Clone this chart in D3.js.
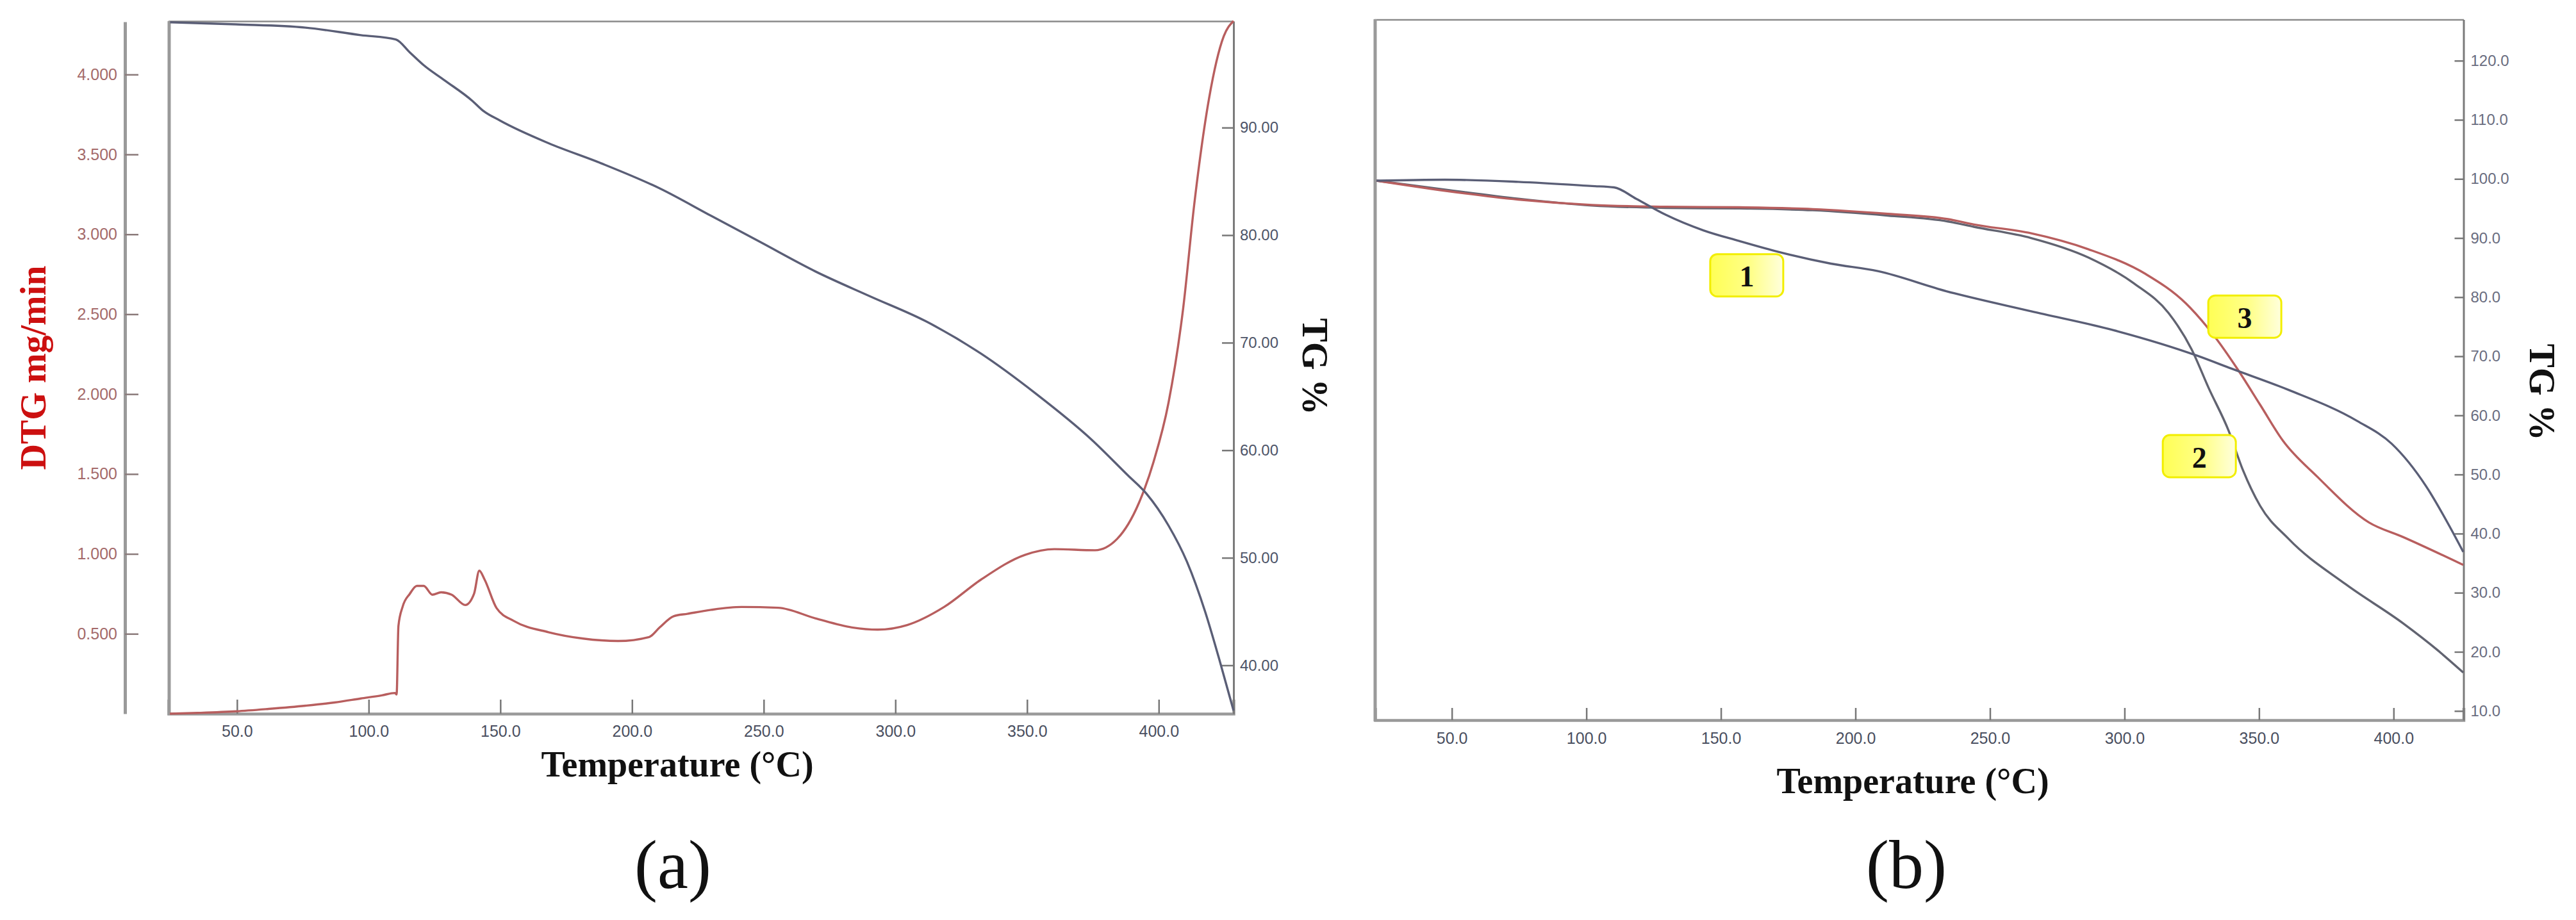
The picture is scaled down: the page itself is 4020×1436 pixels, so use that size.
<!DOCTYPE html>
<html><head><meta charset="utf-8">
<script src="https://cdn.jsdelivr.net/npm/d3@7/dist/d3.min.js"></script>
<style>body{margin:0;background:#fff}svg{display:block}</style>
</head><body>
<svg id="c" width="4020" height="1436"></svg>
<script>
// ---------- data ----------
// Panel (a): DTG (mg/min) vs temperature
const dtgTemp = [24.5,35,49.6,62,76,87,97,105,110.0,110.6,111.3,112.9,115.6,118.3,120.9,124.2,127.5,131.5,136.7,140,142,144,148.6,155.2,168.3,181.5,194.7,206.5,210.5,215.8,221,230,241.6,255.5,269.6,283.5,293.3,304.5,318.5,332.4,349.2,360.4,375.8,384.2,392.5,398.1,403.7,409.3,413.5,419.1,424.7,428.4];
const dtgValue = [0.0,0.005,0.015,0.03,0.05,0.07,0.095,0.115,0.13,0.12,0.55,0.67,0.75,0.80,0.80,0.745,0.76,0.745,0.68,0.75,0.895,0.84,0.66,0.58,0.51,0.47,0.455,0.48,0.54,0.61,0.625,0.65,0.668,0.663,0.597,0.54,0.526,0.555,0.668,0.838,0.994,1.03,1.023,1.094,1.32,1.58,1.945,2.54,3.19,3.85,4.24,4.335];
// Panel (a): TG (%) vs temperature
const tgATemp = [24.6,49.6,76,97,110.3,115.6,120.9,128.8,139.3,143.3,149.9,168.3,188.1,210.5,230,248.6,269.6,290.5,311.5,332.4,353.4,374.3,388.3,395.3,403.7,410.7,417.6,423.2,428.4];
const tgAValue = [99.8,99.6,99.3,98.6,98.2,97.0,95.8,94.4,92.5,91.6,90.65,88.55,86.7,84.35,81.8,79.37,76.63,74.3,72.0,69.0,65.25,61.03,57.66,55.97,53.0,49.64,45.0,40.37,35.8];
// Panel (b): three TG curves
const tg1Temp = [22,47.4,74.7,102.1,110.3,118.5,129.4,143.5,156.8,170.2,190.9,208.3,233.8,265.3,297.2,327,339.8,361,386.5,399.3,412.1,420.6,425.9];
const tg1Value = [99.7,99.87,99.5,98.8,98.57,96.65,93.96,91.3,89.5,87.8,85.67,84.4,81.0,77.6,74.26,70.1,67.9,64.3,59.05,55.2,48,41.4,36.9];
const tg2Temp = [22,47.4,74.7,102.1,129.4,156.8,184.1,212,234.4,244,265.3,286.6,303.6,316.4,324.9,331.3,338.7,344,350.4,361,382.3,403.6,416.3,425.9];
const tg2Value = [99.7,98.2,96.65,95.5,95.1,95.0,94.7,93.8,92.8,91.9,90.0,86.7,82.3,77.3,71.2,64.6,57.4,50.75,44.7,39.1,31.4,24.8,20.3,16.5];
const tg3Temp = [22,47.4,74.7,102.1,129.4,156.8,184.1,212,234.4,244,265.3,286.6,307.9,322.8,333.4,341.9,350.4,358.9,371.6,390.8,403.6,425.9];
const tg3Value = [99.7,98.0,96.5,95.6,95.3,95.2,94.9,94.1,93.2,92.3,90.8,88.1,83.9,78.95,73.4,67.9,61.8,55.7,49.65,41.9,39.4,34.7];
// tick labels
const xTicks = [50,100,150,200,250,300,350,400];
const dtgTicks = [0.5,1,1.5,2,2.5,3,3.5,4];
const tgATicks = [40,50,60,70,80,90];
const tgBTicks = [10,20,30,40,50,60,70,80,90,100,110,120];
// curve labels in panel (b): [label, temperature, TG %]
const bLabels = ["1","2","3"];
const bLabelTemp = [159.6,327.8,344.7];
const bLabelTG = [83.7,53.1,76.7];

// ---------- drawing ----------
const svg = d3.select("#c");
svg.append("rect").attr("width",4020).attr("height",1436).attr("fill","#fff");
const defs = svg.append("defs");
const grad = defs.append("linearGradient").attr("id","yel").attr("x1","0").attr("x2","1").attr("y1","0").attr("y2","0");
grad.append("stop").attr("offset","0").attr("stop-color","#ffff55");
grad.append("stop").attr("offset","0.55").attr("stop-color","#ffff88");
grad.append("stop").attr("offset","1").attr("stop-color","#ffffdd");

const red = "#b85e5e", slate = "#5a5e76", gray2 = "#616370";
const tickFont = "Liberation Sans, Arial, sans-serif";
const serif = "Liberation Serif, Times New Roman, serif";

// ===== Panel (a) =====
const xA = d3.scaleLinear().domain([24,428.4]).range([263,1925]);
const yD = d3.scaleLinear().domain([0,4.33]).range([1114,34]);
const yTA = d3.scaleLinear().domain([35.5,99.9]).range([1114,33]);

const gA = svg.append("g");
// frame
gA.append("line").attr("x1",263).attr("x2",1925).attr("y1",33.5).attr("y2",33.5).attr("stroke","#8a8a8a").attr("stroke-width",2.5);
gA.append("line").attr("x1",264).attr("x2",264).attr("y1",33).attr("y2",1116).attr("stroke","#9a9a9a").attr("stroke-width",5);

// x axis
const axA = gA.append("g").attr("transform","translate(0,1114)")
  .call(d3.axisTop(xA).tickValues(xTicks).tickSize(22).tickFormat(d3.format(".1f")));
axA.select(".domain").attr("stroke","#999").attr("stroke-width",4.5);
axA.selectAll(".tick line").attr("stroke","#777").attr("stroke-width",2.5);
axA.selectAll(".tick text").attr("y",36).attr("dy",0).attr("font-family",tickFont).attr("font-size",25).attr("fill","#4a4f60");

// DTG axis (separate line to the left)
const axD = gA.append("g").attr("transform","translate(195,0)")
  .call(d3.axisRight(yD).tickValues(dtgTicks).tickSize(21).tickSizeOuter(0).tickFormat(d3.format(".3f")));
axD.select(".domain").attr("stroke","#9a9a9a").attr("stroke-width",5);
axD.selectAll(".tick line").attr("stroke","#8a7a7a").attr("stroke-width",2.5);
axD.selectAll(".tick text").attr("x",-12).attr("text-anchor","end").attr("font-family",tickFont).attr("font-size",25).attr("fill","#a46a6a");

// right TG axis
const axTA = gA.append("g").attr("transform","translate(1925,0)")
  .call(d3.axisLeft(yTA).tickValues(tgATicks).tickSize(18).tickSizeOuter(0).tickFormat(d3.format(".2f")));
axTA.select(".domain").attr("stroke","#7a7a7a").attr("stroke-width",3);
axTA.selectAll(".tick line").attr("stroke","#777").attr("stroke-width",2.5);
axTA.selectAll(".tick text").attr("x",10).attr("text-anchor","start").attr("font-family",tickFont).attr("font-size",24).attr("fill","#4d5468");

// curves
const lineDTG = d3.line().x((d,i)=>xA(dtgTemp[i])).y((d,i)=>yD(dtgValue[i])).curve(d3.curveMonotoneX);
gA.append("path").attr("d",lineDTG(dtgTemp)).attr("fill","none").attr("stroke",red).attr("stroke-width",3.4);
const lineTA = d3.line().x((d,i)=>xA(tgATemp[i])).y((d,i)=>yTA(tgAValue[i])).curve(d3.curveMonotoneX);
gA.append("path").attr("d",lineTA(tgATemp)).attr("fill","none").attr("stroke",slate).attr("stroke-width",3.4);

// titles
gA.append("text").attr("transform","translate(52,574) rotate(-90)").attr("text-anchor","middle").attr("dominant-baseline","central")
  .attr("font-family",serif).attr("font-weight","bold").attr("font-size",56).attr("fill","#cc1010").text("DTG mg/min");
gA.append("text").attr("transform","translate(2052,572) rotate(90)").attr("text-anchor","middle").attr("dominant-baseline","central")
  .attr("font-family",serif).attr("font-weight","bold").attr("font-size",56).attr("fill","#111").text("TG %");
gA.append("text").attr("x",1057).attr("y",1212).attr("text-anchor","middle")
  .attr("font-family",serif).attr("font-weight","bold").attr("font-size",56).attr("fill","#111").text("Temperature (°C)");
gA.append("text").attr("x",1050).attr("y",1386).attr("text-anchor","middle")
  .attr("font-family",serif).attr("font-size",108).attr("fill","#111").text("(a)");

// ===== Panel (b) =====
const xB = d3.scaleLinear().domain([21.5,426]).range([2146,3844.5]);
const yB = d3.scaleLinear().domain([8.45,126.95]).range([1124,30.6]);
const gB = svg.append("g");
gB.append("line").attr("x1",2145).attr("x2",3845).attr("y1",31).attr("y2",31).attr("stroke","#8a8a8a").attr("stroke-width",2.5);
gB.append("line").attr("x1",2146).attr("x2",2146).attr("y1",30).attr("y2",1126).attr("stroke","#9a9a9a").attr("stroke-width",5);

const axB = gB.append("g").attr("transform","translate(0,1124)")
  .call(d3.axisTop(xB).tickValues(xTicks).tickSize(19).tickFormat(d3.format(".1f")));
axB.select(".domain").attr("stroke","#999").attr("stroke-width",4.5);
axB.selectAll(".tick line").attr("stroke","#777").attr("stroke-width",2.5);
axB.selectAll(".tick text").attr("y",37).attr("dy",0).attr("font-family",tickFont).attr("font-size",25).attr("fill","#4a4f60");

const axTB = gB.append("g").attr("transform","translate(3844.5,0)")
  .call(d3.axisLeft(yB).tickValues(tgBTicks).tickSize(14).tickSizeOuter(0).tickFormat(d3.format(".1f")));
axTB.select(".domain").attr("stroke","#7a7a7a").attr("stroke-width",3);
axTB.selectAll(".tick line").attr("stroke","#777").attr("stroke-width",2.5);
axTB.selectAll(".tick text").attr("x",11).attr("text-anchor","start").attr("font-family",tickFont).attr("font-size",24).attr("fill","#6a6d80");

const mk = (T,V)=>d3.line().x((d,i)=>xB(T[i])).y((d,i)=>yB(V[i])).curve(d3.curveMonotoneX)(T);
gB.append("path").attr("d",mk(tg2Temp,tg2Value)).attr("fill","none").attr("stroke",gray2).attr("stroke-width",3.4);
gB.append("path").attr("d",mk(tg3Temp,tg3Value)).attr("fill","none").attr("stroke",red).attr("stroke-width",3.4);
gB.append("path").attr("d",mk(tg1Temp,tg1Value)).attr("fill","none").attr("stroke",slate).attr("stroke-width",3.4);

// numbered labels
const lab = gB.selectAll("g.lab").data(bLabels).enter().append("g").attr("class","lab")
  .attr("transform",(d,i)=>`translate(${xB(bLabelTemp[i])},${yB(bLabelTG[i])})`);
lab.append("rect").attr("x",-57).attr("y",-33).attr("width",114).attr("height",66).attr("rx",11)
  .attr("fill","url(#yel)").attr("stroke","#f2ee00").attr("stroke-width",3);
lab.append("text").attr("text-anchor","middle").attr("dominant-baseline","central").attr("y",2)
  .attr("font-family",serif).attr("font-weight","bold").attr("font-size",46).attr("fill","#111").text(d=>d);

gB.append("text").attr("transform","translate(3967,612) rotate(90)").attr("text-anchor","middle").attr("dominant-baseline","central")
  .attr("font-family",serif).attr("font-weight","bold").attr("font-size",56).attr("fill","#111").text("TG %");
gB.append("text").attr("x",2985).attr("y",1238).attr("text-anchor","middle")
  .attr("font-family",serif).attr("font-weight","bold").attr("font-size",56).attr("fill","#111").text("Temperature (°C)");
gB.append("text").attr("x",2975).attr("y",1386).attr("text-anchor","middle")
  .attr("font-family",serif).attr("font-size",108).attr("fill","#111").text("(b)");
</script>
</body></html>
